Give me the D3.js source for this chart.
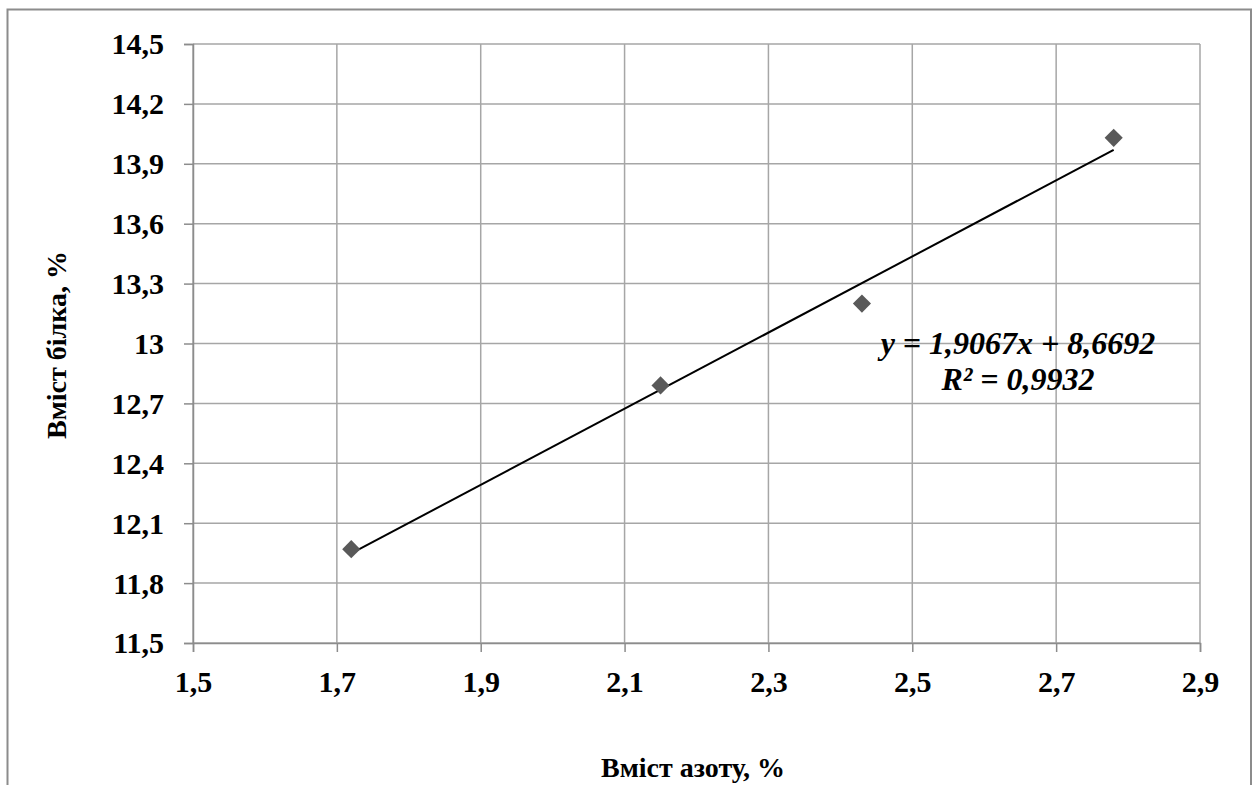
<!DOCTYPE html>
<html>
<head>
<meta charset="utf-8">
<script src="https://cdn.jsdelivr.net/npm/d3@7"></script>
<style>
  html, body { margin: 0; padding: 0; background: #fff; }
  svg text { font-family: "Liberation Serif", "Times New Roman", serif; font-weight: bold; fill: #000; }
</style>
</head>
<body>
<svg id="chart" width="1256" height="785"></svg>
<script>
// nitrogen content, % vs protein content, %
const nitrogen = [1.72, 2.15, 2.43, 2.78];
const protein = [11.97, 12.79, 13.20, 14.03];
const xTicks = [1.5, 1.7, 1.9, 2.1, 2.3, 2.5, 2.7, 2.9];
const yTicks = [11.5, 11.8, 12.1, 12.4, 12.7, 13.0, 13.3, 13.6, 13.9, 14.2, 14.5];
const slope = 1.9067, intercept = 8.6692, r2 = "0,9932";

const svg = d3.select("#chart");
const m = { left: 193, top: 44, right: 1200, bottom: 643 };

// outer chart frame (bottom edge runs off the page)
svg.append("rect")
  .attr("x", 7.5).attr("y", 9.5)
  .attr("width", 1243.5).attr("height", 800)
  .attr("fill", "none").attr("stroke", "#8c8c8c").attr("stroke-width", 2);

const x = d3.scaleLinear().domain([1.5, 2.9]).range([m.left, m.right]);
const y = d3.scaleLinear().domain([11.5, 14.5]).range([m.bottom, m.top]);

const fmt = d => d3.format(".1f")(d).replace(".", ",").replace(",0", "");

// gridlines
svg.append("g").selectAll("line").data(xTicks).join("line")
  .attr("x1", d => x(d)).attr("x2", d => x(d))
  .attr("y1", m.top).attr("y2", m.bottom)
  .attr("stroke", "#a6a6a6").attr("stroke-width", 1.5);
svg.append("g").selectAll("line").data(yTicks).join("line")
  .attr("x1", m.left).attr("x2", m.right)
  .attr("y1", d => y(d)).attr("y2", d => y(d))
  .attr("stroke", "#a6a6a6").attr("stroke-width", 1.5);

// axes
const xAxis = svg.append("g")
  .attr("transform", `translate(0,${m.bottom})`)
  .call(d3.axisBottom(x).tickValues(xTicks).tickFormat(fmt).tickSize(9).tickPadding(19));
const yAxis = svg.append("g")
  .attr("transform", `translate(${m.left},0)`)
  .call(d3.axisLeft(y).tickValues(yTicks).tickFormat(fmt).tickSize(9).tickPadding(20));
[xAxis, yAxis].forEach(g => {
  g.attr("font-family", null).attr("font-size", null);
  g.select(".domain").attr("stroke", "#8c8c8c").attr("stroke-width", 1.5);
  g.selectAll(".tick line").attr("stroke", "#8c8c8c").attr("stroke-width", 1.5);
  g.selectAll(".tick text").style("font-size", "30px").attr("fill", "#000");
});
yAxis.selectAll(".tick text").attr("dy", "0.33em");

// linear trendline
const xs = d3.extent(nitrogen);
svg.append("line")
  .attr("x1", x(xs[0])).attr("y1", y(slope * xs[0] + intercept))
  .attr("x2", x(xs[1])).attr("y2", y(slope * xs[1] + intercept))
  .attr("stroke", "#000").attr("stroke-width", 2);

// markers
const diamond = d3.symbol().type(d3.symbolDiamond2).size(210);
svg.append("g").selectAll("path").data(nitrogen).join("path")
  .attr("d", diamond)
  .attr("transform", (d, i) => `translate(${x(d)},${y(protein[i])})`)
  .attr("fill", "#595959");

// equation label
const eq = svg.append("text")
  .attr("font-size", 32).attr("font-style", "italic").attr("text-anchor", "middle");
eq.append("tspan").attr("x", 1018).attr("y", 354).text("y = 1,9067x + 8,6692");
eq.append("tspan").attr("x", 1018).attr("y", 390).text("R² = " + r2);

// axis titles
svg.append("text").attr("x", 693).attr("y", 777).attr("text-anchor", "middle")
  .attr("font-size", 28).text("Вміст азоту, %");
svg.append("text").attr("transform", "translate(66,345) rotate(-90)")
  .attr("text-anchor", "middle").attr("font-size", 28).text("Вміст білка, %");
</script>
</body>
</html>
